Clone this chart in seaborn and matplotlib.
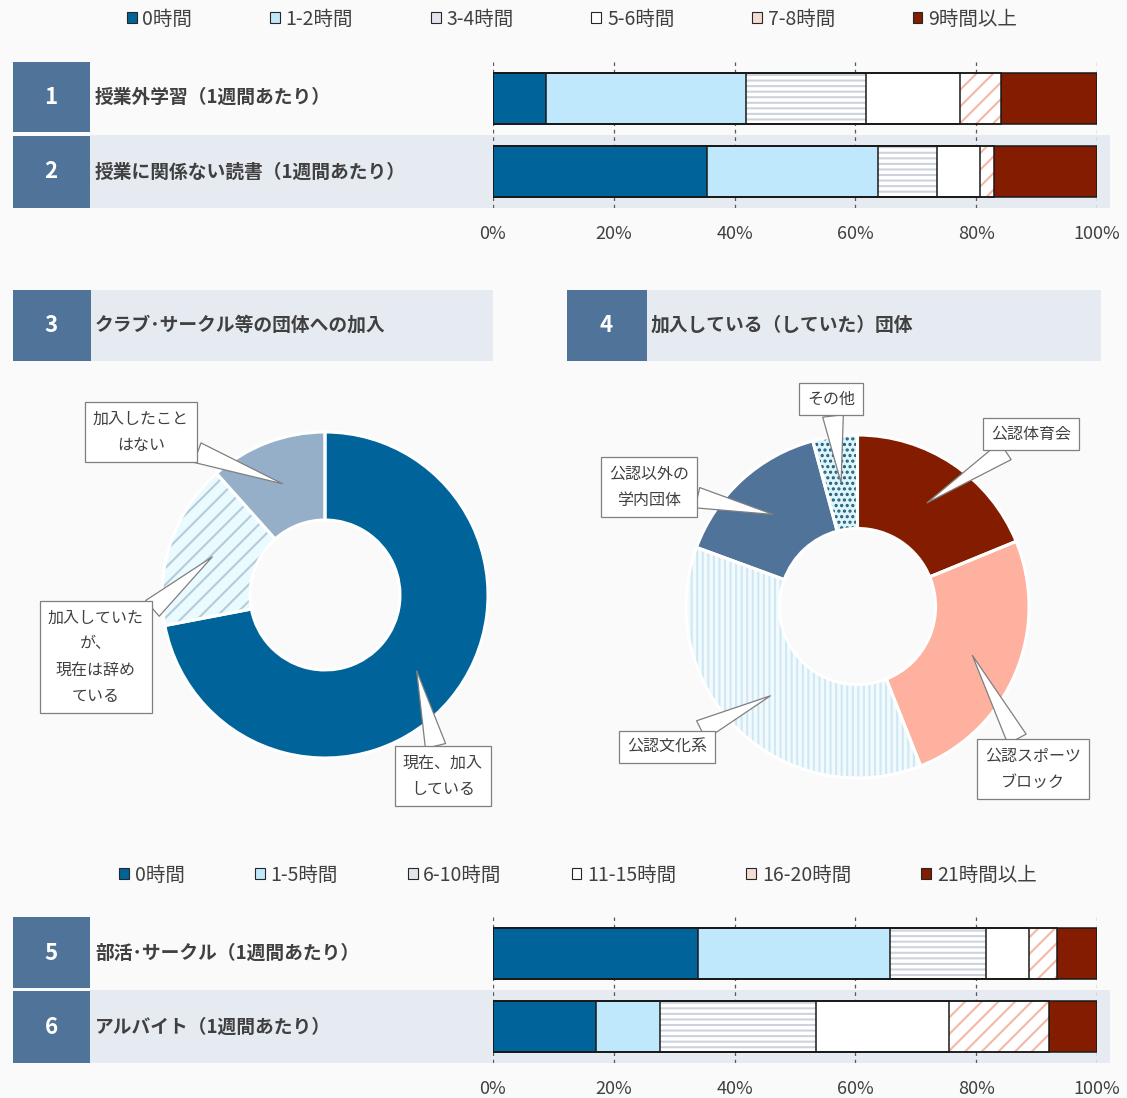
import matplotlib
matplotlib.use("Agg")
import matplotlib.pyplot as plt
from matplotlib.patches import Rectangle, Patch
import seaborn as sns
import numpy as np

# ---------------- data ----------------
top_rows = ["授業外学習（1週間あたり）", "授業に関係ない読書（1週間あたり）"]
top_cats = ["0時間", "1-2時間", "3-4時間", "5-6時間", "7-8時間", "9時間以上"]
study_hours = [8.8, 33.1, 19.9, 15.6, 6.7, 15.9]
reading_hours = [35.4, 28.3, 9.8, 7.2, 2.2, 17.1]

bottom_rows = ["部活･サークル（1週間あたり）", "アルバイト（1週間あたり）"]
bottom_cats = ["0時間", "1-5時間", "6-10時間", "11-15時間", "16-20時間", "21時間以上"]
club_hours = [33.9, 31.8, 15.9, 7.1, 4.7, 6.6]
parttime_hours = [17.0, 10.7, 25.7, 22.1, 16.5, 8.0]

join_labels = ["現在、加入\nしている", "加入していた\nが、\n現在は辞め\nている", "加入したこと\nはない"]
join_values = [72.0, 16.4, 11.6]

group_labels = ["公認体育会", "公認スポーツ\nブロック", "公認文化系", "公認以外の\n学内団体", "その他"]
group_values = [18.8, 25.2, 36.6, 15.2, 4.2]

pct_ticks = [0, 20, 40, 60, 80, 100]

# ---------------- styles ----------------
W, H = 1127, 1098
BOX = "#4F7399"
BAND = "#E6EBF2"
TXT = "#404040"

# face, hatch, hatch colour, legend swatch
bar_styles = [
    ("#00639A", None, None, "#00639A"),
    ("#BFE8FC", None, None, "#BFE8FC"),
    ("#FFFFFF", "---", "#CDD2DC", "#E2E5EB"),
    ("#FFFFFF", None, None, "#FFFFFF"),
    ("#FFFFFF", "//", "#F5B7A6", "#F3DCD3"),
    ("#841C00", None, None, "#841C00"),
]
join_styles = [("#00639A", None, None), ("#E9FBFF", "//", "#B7CCD9"), ("#96AFC9", None, None)]
group_styles = [("#841C00", None, None), ("#FFB1A0", None, None), ("#F2FAFD", "|||", "#CFE8F3"),
                ("#4F7399", None, None), ("#DDF4FA", "...", "#1F5C78")]

# callout box centres (pixels) for the donut labels
join_boxes = [(443, 776), (96, 657), (141, 432)]
group_boxes = [(1031, 434), (1033, 769), (667, 747), (649, 487), (831, 399)]

sns.set_theme(style="white")
plt.rcParams["font.family"] = ["Noto Sans CJK JP", "DejaVu Sans"]
plt.rcParams["hatch.linewidth"] = 1.5

fig = plt.figure(figsize=(W / 100, H / 100), dpi=100)
fig.patch.set_facecolor("#FAFAFA")


def px_axes(x0, y0, x1, y1, z=1):
    return fig.add_axes([x0 / W, 1 - y1 / H, (x1 - x0) / W, (y1 - y0) / H], zorder=z)


# background: numbered header boxes and bands
bg = px_axes(0, 0, W, H, z=0)
bg.set_xlim(0, W)
bg.set_ylim(H, 0)
bg.axis("off")
for (x, y, w, h, c) in [
    (90, 135, 1020, 73, BAND), (90, 990, 1020, 73, BAND),
    (91, 290, 402, 71, BAND), (647, 290, 454, 71, BAND),
    (13, 62, 77, 70, BOX), (13, 135.5, 77, 72.5, BOX),
    (13, 290, 78, 71, BOX), (567, 290, 80, 71, BOX),
    (13, 917, 77, 71, BOX), (13, 991, 77, 72, BOX),
]:
    bg.add_patch(Rectangle((x, y), w, h, facecolor=c, edgecolor="none"))

headers = [
    ("1", 51, 97, top_rows[0], 95),
    ("2", 51, 172, top_rows[1], 95),
    ("3", 51, 325, "クラブ･サークル等の団体への加入", 95),
    ("4", 606, 325, "加入している（していた）団体", 651),
    ("5", 51, 953, bottom_rows[0], 95),
    ("6", 51, 1027, bottom_rows[1], 95),
]
for num, nx, ny, title, tx in headers:
    bg.text(nx, ny, num, color="white", fontsize=16, fontweight="bold", ha="center", va="center")
    bg.text(tx, ny, title, color=TXT, fontsize=13.5, fontweight="bold", ha="left", va="center")


def stacked_bars(ax, rows, series, styles):
    vals = np.array(series)
    cum = vals.cumsum(axis=1)
    # fill pass: longest cumulative bar first so shorter ones cover it
    for j in range(vals.shape[1] - 1, -1, -1):
        face, hatch, hc, _ = styles[j]
        n0 = len(ax.patches)
        sns.barplot(x=cum[:, j], y=rows, orient="y", color=face, saturation=1,
                    width=0.71, errorbar=None, ax=ax)
        for p in ax.patches[n0:]:
            p.set_facecolor(face)
            if hatch:
                p.set_hatch(hatch)
                p.set_edgecolor(hc)
            p.set_linewidth(0)
    # outline pass
    for j in range(vals.shape[1]):
        n0 = len(ax.patches)
        sns.barplot(x=cum[:, j], y=rows, orient="y", color="black", saturation=1,
                    width=0.71, errorbar=None, ax=ax)
        for p in ax.patches[n0:]:
            p.set_facecolor("none")
            p.set_edgecolor("#1A1A1A")
            p.set_linewidth(1.1)
    ax.set_xlim(0, 100)
    ax.set_ylim(1.5, -0.5)
    ax.set_xticks(pct_ticks)
    ax.set_xticklabels([f"{t}%" for t in pct_ticks])
    ax.set_yticks([])
    ax.set_xlabel("")
    ax.set_ylabel("")
    ax.set_facecolor("none")
    for s in ax.spines.values():
        s.set_visible(False)
    ax.xaxis.grid(True, linestyle=(0, (3, 3)), color="#595959", linewidth=0.9)
    ax.set_axisbelow(True)
    ax.tick_params(axis="x", length=0, pad=12.5, labelsize=13, labelcolor=TXT)


ax_top = px_axes(493, 62, 1097, 208)
stacked_bars(ax_top, top_rows, [study_hours, reading_hours], bar_styles)

ax_bot = px_axes(493, 917, 1097, 1063)
stacked_bars(ax_bot, bottom_rows, [club_hours, parttime_hours], bar_styles)


def legend_row(cats, cx, cy, spacing):
    handles = [Patch(facecolor=s[3], edgecolor="#262626", linewidth=0.8) for s in bar_styles]
    fig.legend(handles, cats, loc="center", bbox_to_anchor=(cx / W, 1 - cy / H), ncol=6,
               frameon=False, fontsize=14, labelcolor=TXT, handlelength=0.5,
               handleheight=0.5, handletextpad=0.3, columnspacing=spacing)


legend_row(top_cats, 572, 19, 4.0)
legend_row(bottom_cats, 578, 875, 3.6)


def donut(cx, cy, R, values, labels, styles, boxes, width):
    lim = 1.05
    ax = px_axes(cx - R * lim, cy - R * lim, cx + R * lim, cy + R * lim, z=2)
    wedges, _ = ax.pie(values, startangle=90, counterclock=False, radius=1,
                       colors=[s[0] for s in styles],
                       wedgeprops=dict(width=width, linewidth=0))
    for w, (face, hatch, hc) in zip(wedges, styles):
        if hatch:
            w.set_hatch(hatch)
            w.set_edgecolor(hc)
        w.set_linewidth(0)
    ax.pie(values, startangle=90, counterclock=False, radius=1,
           wedgeprops=dict(width=width, fill=False, edgecolor="white", linewidth=2.2))
    ax.set_xlim(-lim, lim)
    ax.set_ylim(-lim, lim)
    ax.set_aspect("equal")
    ax.axis("off")

    v = np.array(values, dtype=float)
    ends = np.cumsum(v) / v.sum() * 360
    mids = np.deg2rad(ends - v / v.sum() * 180)
    r = 1 - width / 2
    for lab, m, (bx, by) in zip(labels, mids, boxes):
        ax.annotate(lab, xy=(r * np.sin(m), r * np.cos(m)), xycoords="data",
                    xytext=(bx, H - by), textcoords="figure pixels",
                    ha="center", va="center", fontsize=11.5, color=TXT, linespacing=1.7,
                    annotation_clip=False,
                    bbox=dict(boxstyle="square,pad=0.5", facecolor="white",
                              edgecolor="#7F7F7F", linewidth=0.9),
                    arrowprops=dict(arrowstyle="wedge,tail_width=1.3,shrink_factor=0.5",
                                    facecolor="white", edgecolor="#7F7F7F", linewidth=0.9,
                                    shrinkA=0, shrinkB=0))


donut(325, 595, 163, join_values, join_labels, join_styles, join_boxes, 0.54)
donut(857.5, 606.5, 171.5, group_values, group_labels, group_styles, group_boxes, 0.545)

fig.savefig("out.png", dpi=100, facecolor=fig.get_facecolor())
